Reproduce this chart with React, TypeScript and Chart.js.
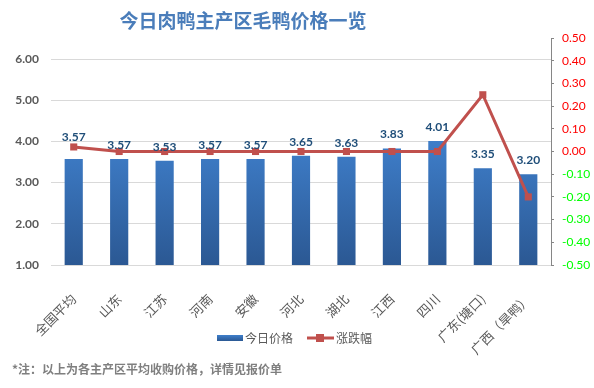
import React, { useEffect, useRef } from "react";
import { Chart, registerables } from "chart.js";

Chart.register(...registerables);

const categories = ["全国平均", "山东", "江苏", "河南", "安徽", "河北", "湖北", "江西", "四川", "广东(塘口)", "广西（旱鸭）"];
const prices = [3.57, 3.57, 3.53, 3.57, 3.57, 3.65, 3.63, 3.83, 4.01, 3.35, 3.2];
const changes = [0.02, 0, 0, 0, 0, 0, 0, 0, 0, 0.25, -0.2];
const leftTicks = [1, 2, 3, 4, 5, 6];

const TITLE = "今日肉鸭主产区毛鸭价格一览";
const NOTE = "*注：以上为各主产区平均收购价格，详情见报价单";
const CJK = '"Noto Sans CJK SC", "Noto Sans", sans-serif';
const NUM = 'Lato, "Open Sans", sans-serif';
const LINE_COLOR = "#C0504D";

export default function App() {
  const ref = useRef<HTMLCanvasElement | null>(null);

  useEffect(() => {
    const canvas = ref.current;
    if (!canvas) return;

    const makeBarGradient = (ctx: CanvasRenderingContext2D, top: number, bottom: number) => {
      const g = ctx.createLinearGradient(0, top, 0, bottom);
      g.addColorStop(0, "#3F7FCB");
      g.addColorStop(1, "#2B5893");
      return g;
    };

    const decor = {
      id: "decor",
      afterDatasetsDraw(chart: any) {
        const ctx = chart.ctx as CanvasRenderingContext2D;
        const meta = chart.getDatasetMeta(1);
        ctx.save();
        ctx.font = `bold 12px ${NUM}`;
        ctx.fillStyle = "#1F4E79";
        ctx.textAlign = "center";
        ctx.textBaseline = "middle";
        meta.data.forEach((el: any, i: number) => {
          const extra = i === 0 ? 8 : 0;
          ctx.fillText(prices[i].toFixed(2), el.x, el.y - 14 - extra);
        });
        ctx.restore();
      },
      afterDraw(chart: any) {
        const ctx = chart.ctx as CanvasRenderingContext2D;
        ctx.save();
        ctx.font = `bold 19px ${CJK}`;
        ctx.fillStyle = "#4A7DBA";
        ctx.textAlign = "center";
        ctx.textBaseline = "middle";
        ctx.fillText(TITLE, 243, 21);

        ctx.fillStyle = makeBarGradient(ctx, 335, 341);
        ctx.fillRect(217, 335, 26, 6);
        ctx.font = `12px ${CJK}`;
        ctx.fillStyle = "#595959";
        ctx.textAlign = "left";
        ctx.fillText("今日价格", 245, 338);
        ctx.strokeStyle = LINE_COLOR;
        ctx.lineWidth = 3;
        ctx.beginPath();
        ctx.moveTo(307, 338);
        ctx.lineTo(334, 338);
        ctx.stroke();
        ctx.fillStyle = LINE_COLOR;
        ctx.fillRect(316, 334, 8, 8);
        ctx.fillStyle = "#595959";
        ctx.fillText("涨跌幅", 336, 338);

        ctx.font = `bold 12px ${CJK}`;
        ctx.fillStyle = "#7F7F7F";
        ctx.fillText(NOTE, 12, 369);
        ctx.restore();
      },
    };

    const chart = new Chart(canvas, {
      data: {
        labels: categories,
        datasets: [
          {
            type: "line",
            label: "涨跌幅",
            data: changes,
            yAxisID: "y1",
            borderColor: LINE_COLOR,
            backgroundColor: LINE_COLOR,
            borderWidth: 3,
            pointStyle: "rect",
            pointRadius: 5,
            pointBorderWidth: 0,
            tension: 0,
            order: 0,
          },
          {
            type: "bar",
            label: "今日价格",
            data: prices,
            yAxisID: "y",
            backgroundColor: (c: any) => {
              const ch = c.chart;
              const ys = ch.scales?.y;
              if (!ys) return "#3A74BC";
              const t = ys.getPixelForValue(4.1);
              const b = ys.getPixelForValue(1);
              if (!isFinite(t) || !isFinite(b) || t === b) return "#3A74BC";
              return makeBarGradient(ch.ctx, t, b);
            },
            barPercentage: 0.4,
            categoryPercentage: 1,
            order: 1,
          },
        ],
      } as any,
      options: {
        responsive: false,
        animation: false,
        devicePixelRatio: 1,
        layout: { padding: { top: 38, left: 0, right: 0, bottom: 0 } },
        plugins: {
          legend: { display: false },
          title: { display: false },
          tooltip: { enabled: false },
        },
        scales: {
          x: {
            grid: { display: false },
            border: { display: false },
            ticks: {
              minRotation: 45,
              maxRotation: 45,
              autoSkip: false,
              padding: 18,
              color: "#595959",
              font: { family: CJK, size: 13 },
            },
            afterFit: (s: any) => {
              s.height = 123;
            },
          },
          y: {
            position: "left",
            min: 1,
            max: 6.51,
            afterBuildTicks: (s: any) => {
              s.ticks = leftTicks.map((v) => ({ value: v }));
            },
            grid: { color: "#D9D9D9", drawTicks: false, lineWidth: 1 },
            border: { display: false },
            ticks: {
              padding: 12,
              color: "#595959",
              font: { family: NUM, size: 12, weight: "bold" },
              callback: (v: any) => Number(v).toFixed(2),
            },
            afterFit: (s: any) => {
              s.width = 51;
            },
          },
          y1: {
            position: "right",
            min: -0.5,
            max: 0.5,
            grid: { drawOnChartArea: false, color: "#868686", tickLength: 3 },
            border: { display: true, color: "#868686" },
            ticks: {
              stepSize: 0.1,
              padding: 8,
              font: { family: NUM, size: 12 },
              color: (c: any) => (c.tick && c.tick.value < -0.001 ? "#00FF00" : "#FF0000"),
              callback: (v: any) => (Math.abs(Number(v)) < 1e-9 ? 0 : Number(v)).toFixed(2),
            },
            afterFit: (s: any) => {
              s.width = 43;
            },
          },
        },
      } as any,
      plugins: [decor],
    });

    return () => chart.destroy();
  }, []);

  return (
    <div style={{ position: "absolute", left: 0, top: 0, width: 594, height: 388, background: "#fff" }}>
      <canvas ref={ref} width={594} height={388} />
    </div>
  );
}
